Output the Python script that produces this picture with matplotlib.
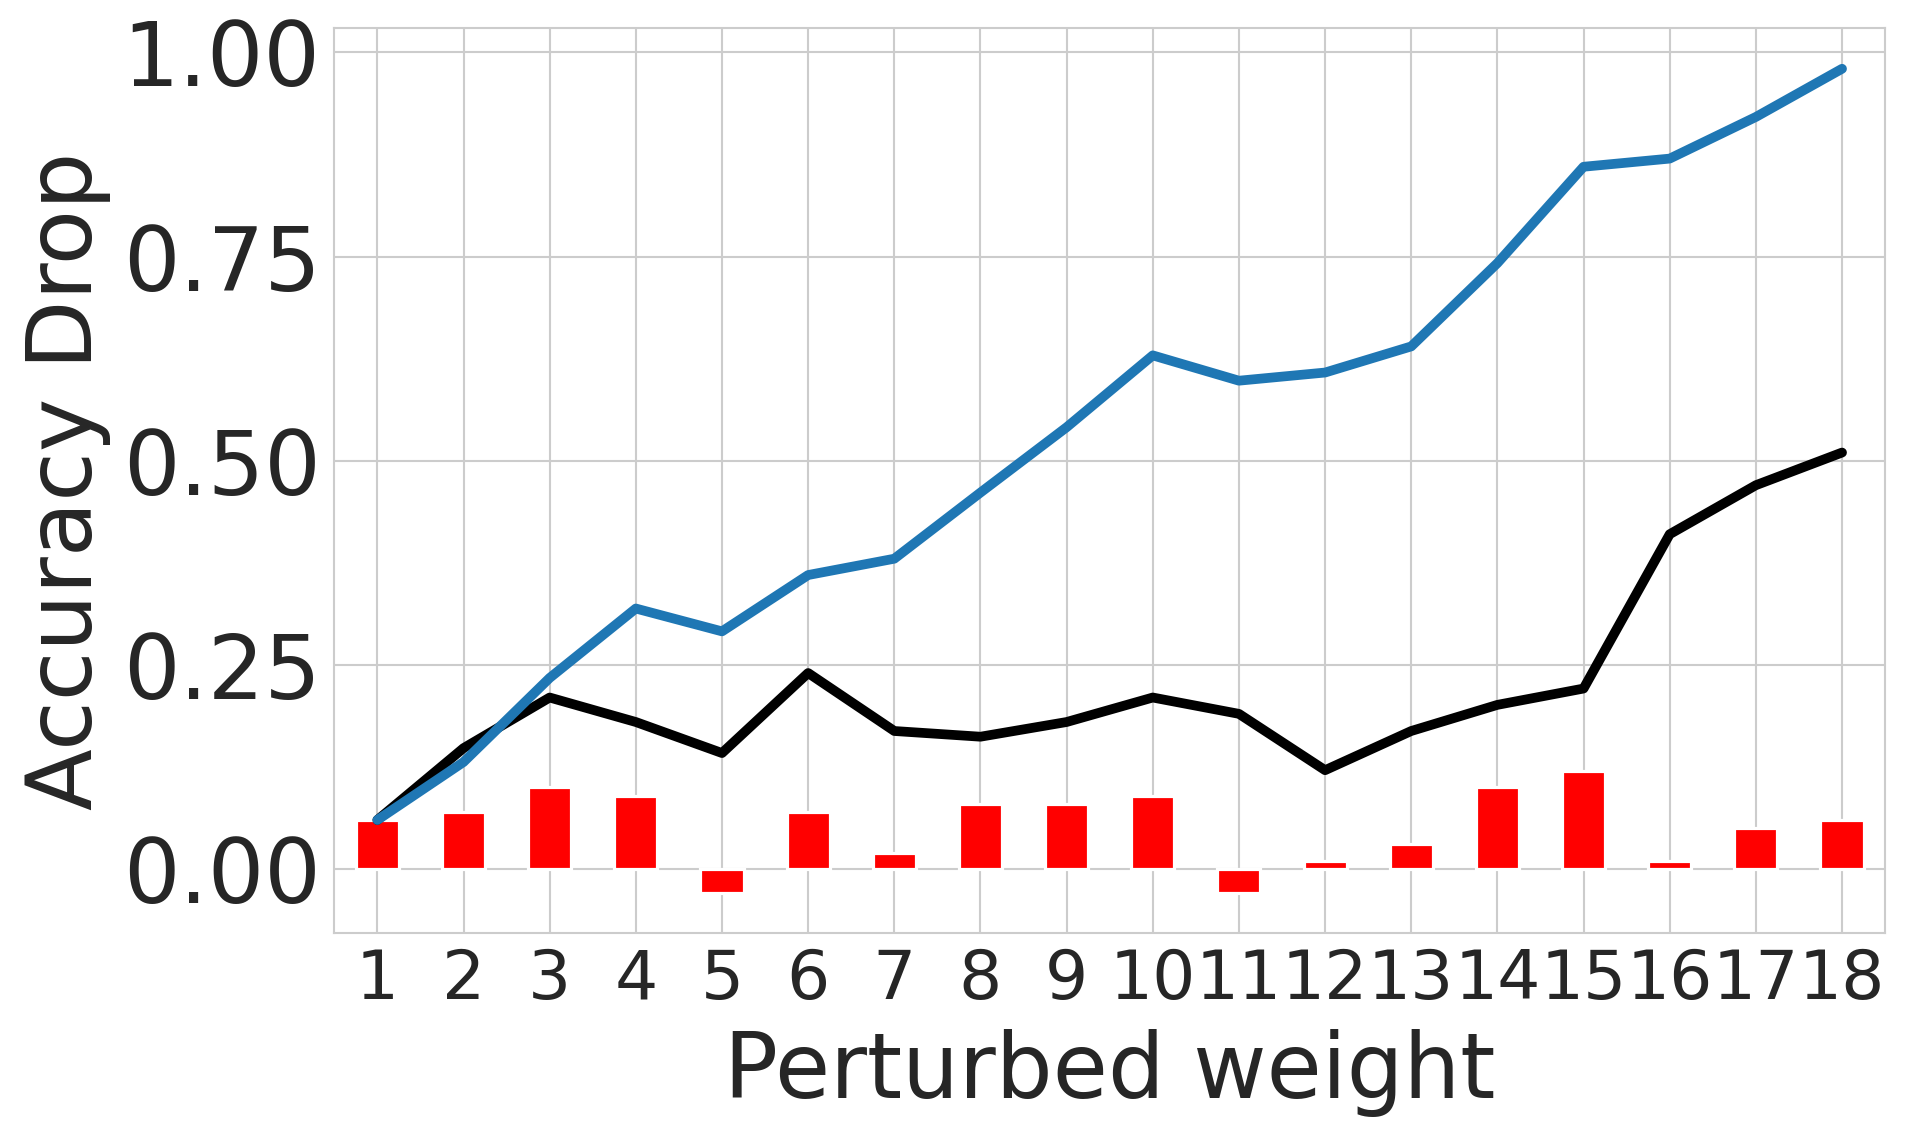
import matplotlib
matplotlib.use("Agg")
import matplotlib.pyplot as plt
import seaborn as sns
import numpy as np

sns.set_style("whitegrid")
plt.rcParams['font.family'] = ['DejaVu Sans']

weights = list(range(1, 19))
tick_labels = [str(w) for w in weights]
blue_vals = [0.06, 0.131, 0.234, 0.319, 0.291, 0.360, 0.380, 0.461, 0.541, 0.629,
             0.598, 0.608, 0.640, 0.742, 0.860, 0.870, 0.921, 0.980]
black_vals = [0.06, 0.148, 0.210, 0.180, 0.142, 0.240, 0.169, 0.162, 0.180, 0.210,
              0.190, 0.121, 0.169, 0.201, 0.221, 0.410, 0.470, 0.510]
bar_vals = [0.06, 0.07, 0.10, 0.09, -0.03, 0.07, 0.02, 0.08, 0.08, 0.09,
            -0.03, 0.01, 0.03, 0.10, 0.12, 0.01, 0.05, 0.06]

fig = plt.figure(figsize=(19.08, 11.36), dpi=100)
ax = fig.add_axes([0.1752, 0.1784, 0.988 - 0.1752, 0.9754 - 0.1784])

ax.bar(weights, bar_vals, width=0.5, color='red', edgecolor='white', linewidth=2.3, zorder=2)
ax.plot(weights, black_vals, color='black', linewidth=7, solid_capstyle='round', zorder=3)
ax.plot(weights, blue_vals, color='#1f77b4', linewidth=7, solid_capstyle='round', zorder=4)

ax.set_xlim(0.5, 18.5)
ax.set_ylim(-0.0788, 1.030)
ax.set_xticks(weights)
ax.set_xticklabels(tick_labels, fontsize=49, color='#262626')
ax.set_yticks([0.0, 0.25, 0.5, 0.75, 1.0])
ax.set_yticklabels(['0.00', '0.25', '0.50', '0.75', '1.00'], fontsize=64, color='#262626')
ax.set_xlabel('Perturbed weight', fontsize=64.5, color='#262626', labelpad=11)
ax.set_ylabel('Accuracy Drop', fontsize=65, color='#262626', labelpad=8)

ax.grid(True, color='#cccccc', linewidth=1.5)
for s in ax.spines.values():
    s.set_color('#cccccc')
    s.set_linewidth(1.5)
ax.tick_params(axis='both', length=0, pad=10)

fig.savefig('out.png', dpi=100)
